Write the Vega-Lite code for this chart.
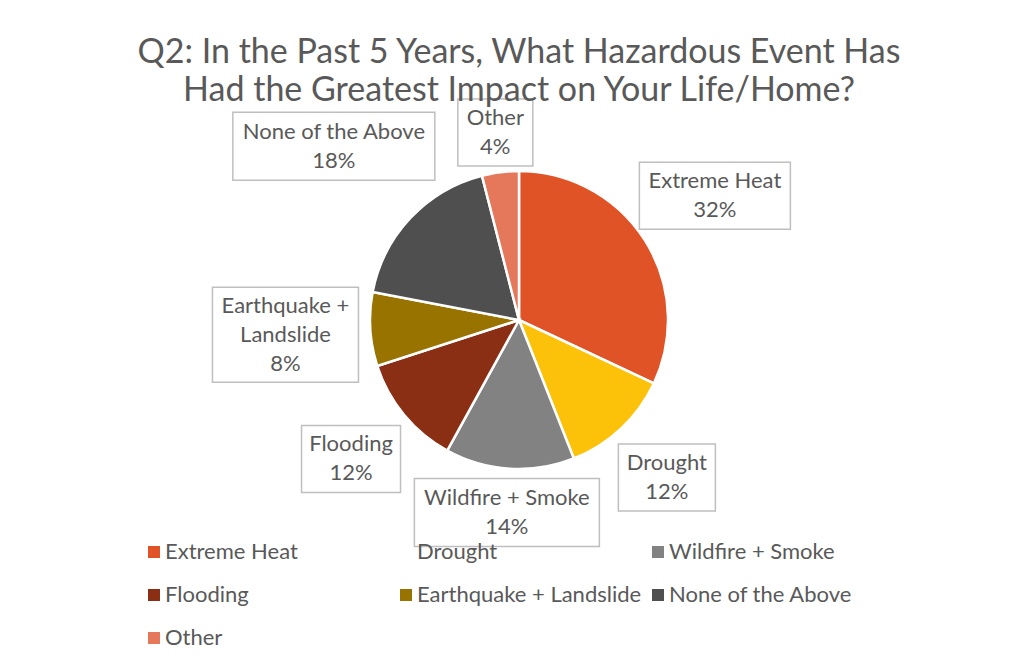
{
  "$schema": "https://vega.github.io/schema/vega-lite/v6.json",
  "width": 1004,
  "height": 400,
  "autosize": {"type": "none"},
  "padding": {"left": 17, "top": 120, "right": 0, "bottom": 152},
  "background": "white",
  "title": {
    "text": ["Q2: In the Past 5 Years, What Hazardous Event Has", "Had the Greatest Impact on Your Life/Home?"],
    "anchor": "middle",
    "font": "Lato",
    "fontSize": 34,
    "fontWeight": "normal",
    "color": "#595959",
    "lineHeight": 38,
    "baseline": "bottom",
    "offset": -46
  },
  "data": {
    "values": [
      {"category": "Extreme Heat", "value": 32, "label": "Extreme Heat\n32%"},
      {"category": "Drought", "value": 12, "label": "Drought\n12%"},
      {"category": "Wildfire + Smoke", "value": 14, "label": "Wildfire + Smoke\n14%"},
      {"category": "Flooding", "value": 12, "label": "Flooding\n12%"},
      {"category": "Earthquake + Landslide", "value": 8, "label": "Earthquake +\nLandslide\n8%"},
      {"category": "None of the Above", "value": 18, "label": "None of the Above\n18%"},
      {"category": "Other", "value": 4, "label": "Other\n4%"}
    ]
  },
  "transform": [
    {"calculate": "indexof(['Extreme Heat','Drought','Wildfire + Smoke','Flooding','Earthquake + Landslide','None of the Above','Other'], datum.category)", "as": "ord"},
    {"joinaggregate": [{"op": "sum", "field": "value", "as": "total"}]},
    {"window": [{"op": "sum", "field": "value", "as": "cum"}], "sort": [{"field": "ord"}], "frame": [null, 0]},
    {"calculate": "2 * PI * (datum.cum - datum.value / 2) / datum.total", "as": "mid"},
    {"calculate": "({'Extreme Heat': 232, 'Drought': 216, 'Wildfire + Smoke': 193, 'Flooding': 218, 'Earthquake + Landslide': 234, 'None of the Above': 254, 'Other': 189})[datum.category]", "as": "lr"},
    {"calculate": "datum.lr * sin(datum.mid)", "as": "lx"},
    {"calculate": "datum.lr * cos(datum.mid)", "as": "ly"},
    {"calculate": "datum.ly + (length(split(datum.label, '\\n')) - 1) * 14.5", "as": "ty"}
  ],
  "layer": [
    {
      "mark": {"type": "arc", "outerRadius": 149, "stroke": "white", "strokeWidth": 2.5},
      "encoding": {
        "theta": {"field": "value", "type": "quantitative", "stack": true},
        "order": {"field": "ord", "type": "quantitative", "sort": "ascending"},
        "color": {
          "field": "category",
          "type": "nominal",
          "scale": {
            "domain": ["Extreme Heat", "Drought", "Wildfire + Smoke", "Flooding", "Earthquake + Landslide", "None of the Above", "Other"],
            "range": ["#E05326", "#FCC20A", "#828282", "#8A2E14", "#997300", "#4F4F4F", "#E5775A"]
          },
          "legend": {
            "orient": "none",
            "legendX": 126,
            "legendY": 421,
            "direction": "horizontal",
            "columns": 3,
            "gridAlign": "all",
            "columnPadding": 5,
            "rowPadding": 21,
            "title": null,
            "padding": 0,
            "symbolType": "square",
            "symbolSize": 144,
            "symbolStrokeWidth": 0,
            "symbolOpacity": {"expr": "datum.label == 'Drought' ? 0 : 1"},
            "labelFont": "Lato",
            "labelFontSize": 22,
            "labelColor": "#595959",
            "labelOffset": 0,
            "labelLimit": 400
          }
        }
      }
    },
    {
      "mark": {"type": "point", "filled": true, "fill": "white", "stroke": "#BFBFBF", "strokeWidth": 1.5, "opacity": 1, "size": 62500},
      "encoding": {
        "x": {"field": "lx", "type": "quantitative", "scale": {"domain": [-502, 502], "nice": false, "zero": false}, "axis": null},
        "y": {"field": "ly", "type": "quantitative", "scale": {"domain": [-200, 200], "nice": false, "zero": false}, "axis": null},
        "shape": {
          "field": "label",
          "type": "nominal",
          "scale": {
            "domain": ["Extreme Heat\n32%", "Drought\n12%", "Wildfire + Smoke\n14%", "Flooding\n12%", "Earthquake +\nLandslide\n8%", "None of the Above\n18%", "Other\n4%"],
            "range": [
              "M-0.604,-0.268H0.604V0.268H-0.604Z",
              "M-0.388,-0.268H0.388V0.268H-0.388Z",
              "M-0.74,-0.272H0.74V0.272H-0.74Z",
              "M-0.396,-0.268H0.396V0.268H-0.396Z",
              "M-0.584,-0.38H0.584V0.38H-0.584Z",
              "M-0.808,-0.272H0.808V0.272H-0.808Z",
              "M-0.3,-0.268H0.3V0.268H-0.3Z"
            ]
          },
          "legend": null
        }
      }
    },
    {
      "mark": {"type": "text", "font": "Lato", "fontSize": 22, "color": "#595959", "lineBreak": "\n", "lineHeight": 29, "align": "center", "baseline": "middle"},
      "encoding": {
        "x": {"field": "lx", "type": "quantitative", "scale": {"domain": [-502, 502], "nice": false, "zero": false}, "axis": null},
        "y": {"field": "ty", "type": "quantitative", "scale": {"domain": [-200, 200], "nice": false, "zero": false}, "axis": null},
        "text": {"field": "label", "type": "nominal"}
      }
    }
  ],
  "config": {"view": {"stroke": null}}
}
